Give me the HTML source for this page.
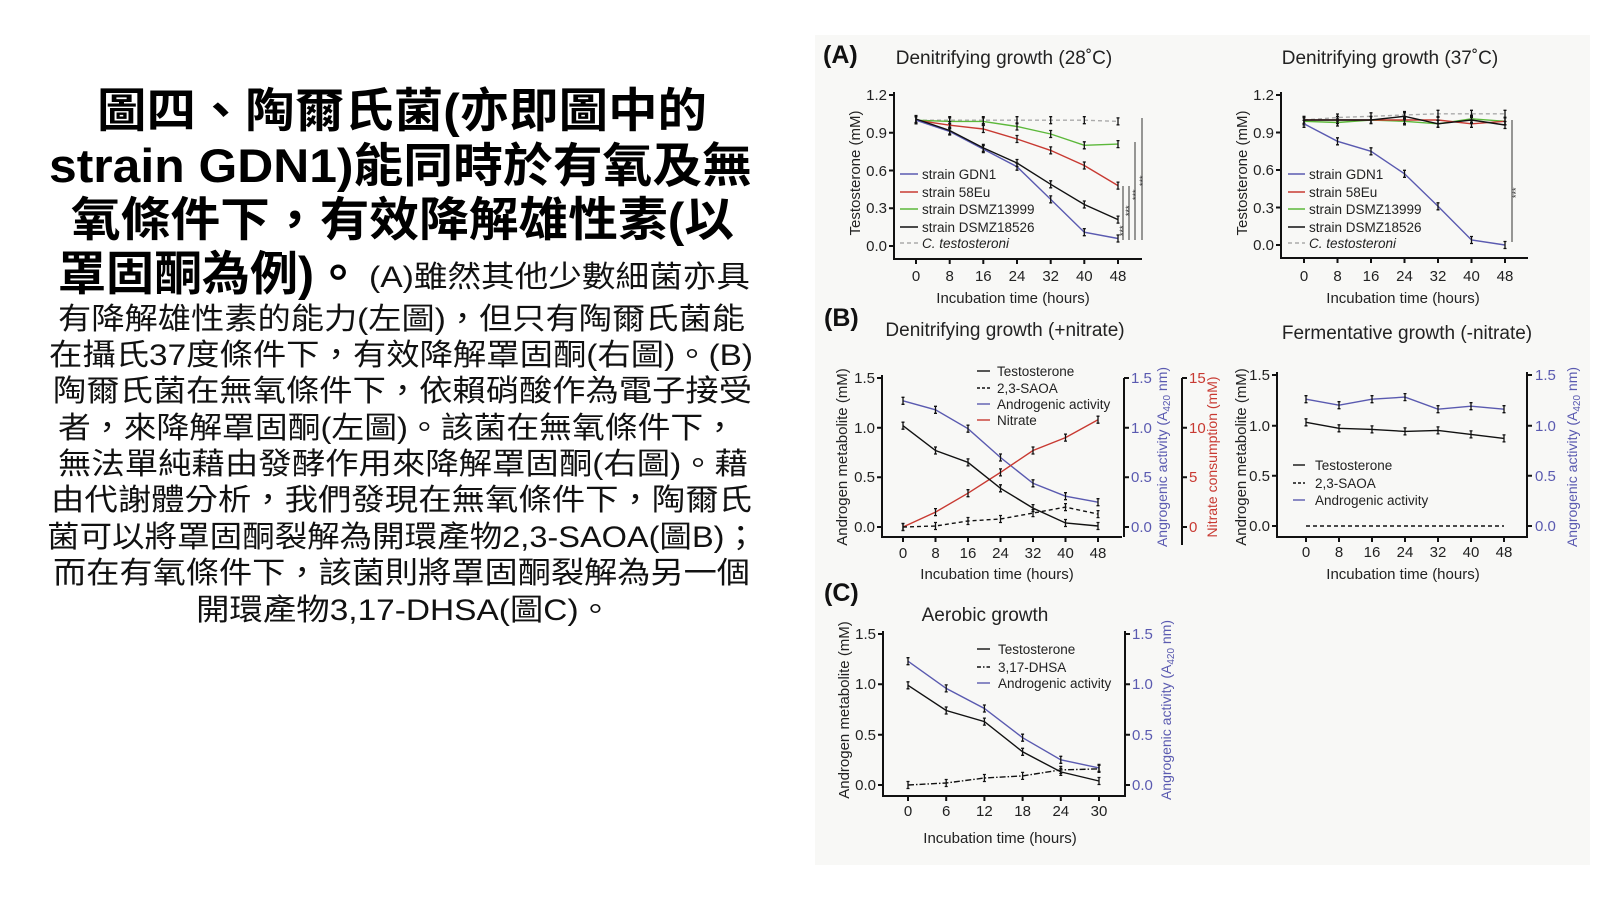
<!DOCTYPE html>
<html><head><meta charset="utf-8">
<style>
html,body{margin:0;padding:0;background:#fff;}
svg{display:block;}
.t{font-family:"Liberation Sans","Noto Sans CJK TC",sans-serif;}
</style></head><body>
<svg width="1600" height="900" viewBox="0 0 1600 900" xmlns="http://www.w3.org/2000/svg" class="t" font-family="Liberation Sans, Noto Sans CJK TC, sans-serif">
<defs>
<marker id="eb" markerUnits="userSpaceOnUse" markerWidth="10" markerHeight="12" refX="5" refY="6" viewBox="0 0 10 12" overflow="visible">
<path d="M5,2.5V9.5M3.5,2.5H6.5M3.5,9.5H6.5" stroke="#111" stroke-width="1.3" fill="none"/>
</marker>
</defs>
<rect x="815" y="35" width="775" height="830" fill="#f8f8f6"/>

<!-- Left text -->
<g font-weight="bold" font-size="47" fill="#000">
<text x="97" y="127" textLength="610" lengthAdjust="spacingAndGlyphs">圖四、陶爾氏菌(亦即圖中的</text>
<text x="49" y="182" textLength="703" lengthAdjust="spacingAndGlyphs">strain GDN1)能同時於有氧及無</text>
<text x="71" y="236" textLength="663" lengthAdjust="spacingAndGlyphs">氧條件下，有效降解雄性素(以</text>
<text x="58" y="290" textLength="304" lengthAdjust="spacingAndGlyphs">罩固酮為例)。</text>
</g>
<g font-size="30" fill="#111">
<text x="369" y="287" textLength="381" lengthAdjust="spacingAndGlyphs">(A)雖然其他少數細菌亦具</text>
<text x="58" y="329" textLength="687" lengthAdjust="spacingAndGlyphs">有降解雄性素的能力(左圖)，但只有陶爾氏菌能</text>
<text x="49" y="365" textLength="704" lengthAdjust="spacingAndGlyphs">在攝氏37度條件下，有效降解罩固酮(右圖)。(B)</text>
<text x="53" y="401" textLength="699" lengthAdjust="spacingAndGlyphs">陶爾氏菌在無氧條件下，依賴硝酸作為電子接受</text>
<text x="58" y="438" textLength="678" lengthAdjust="spacingAndGlyphs">者，來降解罩固酮(左圖)。該菌在無氧條件下，</text>
<text x="58" y="474" textLength="690" lengthAdjust="spacingAndGlyphs">無法單純藉由發酵作用來降解罩固酮(右圖)。藉</text>
<text x="51" y="510" textLength="701" lengthAdjust="spacingAndGlyphs">由代謝體分析，我們發現在無氧條件下，陶爾氏</text>
<text x="47" y="547" textLength="710" lengthAdjust="spacingAndGlyphs">菌可以將罩固酮裂解為開環產物2,3-SAOA(圖B)；</text>
<text x="53" y="583" textLength="697" lengthAdjust="spacingAndGlyphs">而在有氧條件下，該菌則將罩固酮裂解為另一個</text>
<text x="196" y="620" textLength="416" lengthAdjust="spacingAndGlyphs">開環產物3,17-DHSA(圖C)。</text>
</g>

<!-- Panel labels -->
<g font-weight="bold" font-size="25" fill="#111">
<text x="823" y="63">(A)</text>
<text x="824" y="326">(B)</text>
<text x="824" y="601">(C)</text>
</g>

<g font-size="19" fill="#222">
<text x="1004" y="64" text-anchor="middle">Denitrifying growth (28˚C)</text>
<text x="1390" y="64" text-anchor="middle">Denitrifying growth (37˚C)</text>
<text x="1005" y="336" text-anchor="middle">Denitrifying growth (+nitrate)</text>
<text x="1407" y="339" text-anchor="middle">Fermentative growth (-nitrate)</text>
<text x="985" y="621" text-anchor="middle">Aerobic growth</text>
</g>

<!-- ===== Panel A left ===== -->
<g stroke="#111" stroke-width="2" fill="none">
<path d="M894,92V259H1142"/>
<path d="M889,95H894M889,132.8H894M889,170.5H894M889,208.3H894M889,246H894"/>
<path d="M916,259v5M949.7,259v5M983.3,259v5M1017,259v5M1050.7,259v5M1084.3,259v5M1118,259v5"/>
</g>
<g font-size="15" fill="#222" text-anchor="end">
<text x="887" y="100">1.2</text><text x="887" y="138">0.9</text><text x="887" y="176">0.6</text><text x="887" y="213">0.3</text><text x="887" y="251">0.0</text>
</g>
<g font-size="15" fill="#222" text-anchor="middle">
<text x="916" y="281">0</text><text x="949.7" y="281">8</text><text x="983.3" y="281">16</text><text x="1017" y="281">24</text><text x="1050.7" y="281">32</text><text x="1084.3" y="281">40</text><text x="1118" y="281">48</text>
<text x="1013" y="303">Incubation time (hours)</text>
<text transform="translate(860,173) rotate(-90)">Testosterone (mM)</text>
</g>
<g fill="none" stroke-width="1.4" marker-start="url(#eb)" marker-mid="url(#eb)" marker-end="url(#eb)">
<polyline stroke="#aaa" stroke-dasharray="4,3" points="916,120.2 949.7,120.2 983.3,120.2 1017,120.2 1050.7,120.2 1084.3,120.2 1118,121.4"/>
<polyline stroke="#5cb83a" points="916,120.2 949.7,121.4 983.3,121.4 1017,126.5 1050.7,134 1084.3,145.3 1118,144.1"/>
<polyline stroke="#c83a32" points="916,120.2 949.7,125.2 983.3,129 1017,139 1050.7,150.4 1084.3,165.5 1118,185.6"/>
<polyline stroke="#5a5ab0" points="916,120.2 949.7,131.5 983.3,149.1 1017,166.7 1050.7,199.4 1084.3,232.2 1118,238.5"/>
<polyline stroke="#111" points="916,119 949.7,130.5 983.3,147.9 1017,163 1050.7,184.3 1084.3,204.5 1118,219.6"/>
</g>
<g stroke="#333" stroke-width="1">
<path d="M1123,240V186M1129,240V186M1135,240V142M1142,240V118"/>
</g>
<g font-size="9" fill="#333">
<text transform="translate(1126,236) rotate(-90)">***</text>
<text transform="translate(1132,216) rotate(-90)">***</text>
<text transform="translate(1139,200) rotate(-90)">***</text>
<text transform="translate(1146,186) rotate(-90)">***</text>
</g>
<g font-size="13.5" fill="#222">
<path d="M900,174H918" stroke="#5a5ab0" stroke-width="1.4"/><text x="922" y="179">strain GDN1</text>
<path d="M900,192H918" stroke="#c83a32" stroke-width="1.4"/><text x="922" y="197">strain 58Eu</text>
<path d="M900,209H918" stroke="#5cb83a" stroke-width="1.4"/><text x="922" y="214">strain DSMZ13999</text>
<path d="M900,227H918" stroke="#111" stroke-width="1.4"/><text x="922" y="232">strain DSMZ18526</text>
<path d="M900,243H918" stroke="#aaa" stroke-width="1.4" stroke-dasharray="4,3"/><text x="922" y="248" font-style="italic">C. testosteroni</text>
</g>

<!-- ===== Panel A right ===== -->
<g stroke="#111" stroke-width="2" fill="none">
<path d="M1281,92V258H1528"/>
<path d="M1276,95H1281M1276,132.5H1281M1276,170H1281M1276,207.5H1281M1276,245H1281"/>
<path d="M1304,258v5M1337.5,258v5M1371,258v5M1404.5,258v5M1438,258v5M1471.5,258v5M1505,258v5"/>
</g>
<g font-size="15" fill="#222" text-anchor="end">
<text x="1274" y="100">1.2</text><text x="1274" y="138">0.9</text><text x="1274" y="175">0.6</text><text x="1274" y="213">0.3</text><text x="1274" y="250">0.0</text>
</g>
<g font-size="15" fill="#222" text-anchor="middle">
<text x="1304" y="281">0</text><text x="1337.5" y="281">8</text><text x="1371" y="281">16</text><text x="1404.5" y="281">24</text><text x="1438" y="281">32</text><text x="1471.5" y="281">40</text><text x="1505" y="281">48</text>
<text x="1403" y="303">Incubation time (hours)</text>
<text transform="translate(1247,173) rotate(-90)">Testosterone (mM)</text>
</g>
<g fill="none" stroke-width="1.4" marker-start="url(#eb)" marker-mid="url(#eb)" marker-end="url(#eb)">
<polyline stroke="#aaa" stroke-dasharray="4,3" points="1304,120 1337.5,117.5 1371,116.3 1404.5,115 1438,113.8 1471.5,113.8 1505,113.8"/>
<polyline stroke="#5cb83a" points="1304,121.3 1337.5,122.5 1371,120 1404.5,121.3 1438,123.8 1471.5,118.8 1505,121.3"/>
<polyline stroke="#c83a32" points="1304,120 1337.5,120 1371,120 1404.5,120 1438,120 1471.5,123.8 1505,121.3"/>
<polyline stroke="#111" points="1304,120 1337.5,120 1371,120 1404.5,116.3 1438,123.8 1471.5,120 1505,125"/>
<polyline stroke="#5a5ab0" points="1304,123.8 1337.5,141.3 1371,151.3 1404.5,173.8 1438,206.3 1471.5,240 1505,245"/>
</g>
<path d="M1512,120V242" stroke="#333" stroke-width="1"/>
<text transform="translate(1519,198) rotate(-90)" font-size="9" fill="#333">***</text>
<g font-size="13.5" fill="#222">
<path d="M1288,174H1305" stroke="#5a5ab0" stroke-width="1.4"/><text x="1309" y="179">strain GDN1</text>
<path d="M1288,192H1305" stroke="#c83a32" stroke-width="1.4"/><text x="1309" y="197">strain 58Eu</text>
<path d="M1288,209H1305" stroke="#5cb83a" stroke-width="1.4"/><text x="1309" y="214">strain DSMZ13999</text>
<path d="M1288,227H1305" stroke="#111" stroke-width="1.4"/><text x="1309" y="232">strain DSMZ18526</text>
<path d="M1288,243H1305" stroke="#aaa" stroke-width="1.4" stroke-dasharray="4,3"/><text x="1309" y="248" font-style="italic">C. testosteroni</text>
</g>

<!-- ===== Panel B left ===== -->
<g stroke="#111" stroke-width="2" fill="none">
<path d="M882,375V537H1122"/>
<path d="M877,378H882M877,427.7H882M877,477.3H882M877,527H882"/>
<path d="M903,537v5M935.5,537v5M968,537v5M1000.5,537v5M1033,537v5M1065.5,537v5M1098,537v5"/>
<path d="M1124,378V537M1124,378H1129M1124,427.7H1129M1124,477.3H1129M1124,527H1129"/>
<path d="M1182,378V545M1182,378H1187M1182,427.7H1187M1182,477.3H1187M1182,527H1187"/>
</g>
<g font-size="15" fill="#222" text-anchor="end">
<text x="875" y="383">1.5</text><text x="875" y="433">1.0</text><text x="875" y="482">0.5</text><text x="875" y="532">0.0</text>
</g>
<g font-size="15" fill="#5a5ab0">
<text x="1131" y="383">1.5</text><text x="1131" y="433">1.0</text><text x="1131" y="482">0.5</text><text x="1131" y="532">0.0</text>
<text transform="translate(1167,457) rotate(-90)" text-anchor="middle" font-size="14">Angrogenic activity (A<tspan font-size="10" dy="3">420</tspan><tspan dy="-3"> nm)</tspan></text>
</g>
<g font-size="15" fill="#c83a32">
<text x="1189" y="383">15</text><text x="1189" y="433">10</text><text x="1189" y="482">5</text><text x="1189" y="532">0</text>
<text transform="translate(1217,457) rotate(-90)" text-anchor="middle" font-size="14">Nitrate consumption (mM)</text>
</g>
<g font-size="15" fill="#222" text-anchor="middle">
<text x="903" y="558">0</text><text x="935.5" y="558">8</text><text x="968" y="558">16</text><text x="1000.5" y="558">24</text><text x="1033" y="558">32</text><text x="1065.5" y="558">40</text><text x="1098" y="558">48</text>
<text x="997" y="579">Incubation time (hours)</text>
<text transform="translate(847,457) rotate(-90)">Androgen metabolite (mM)</text>
</g>
<g fill="none" stroke-width="1.4" marker-start="url(#eb)" marker-mid="url(#eb)" marker-end="url(#eb)">
<polyline stroke="#5a5ab0" points="903,400.8 935.5,409.8 968,428.7 1000.5,457.5 1033,483.3 1065.5,496.2 1098,502.2"/>
<polyline stroke="#c83a32" points="903,527 935.5,512.1 968,493.2 1000.5,472.4 1033,450.5 1065.5,437.6 1098,419.7"/>
<polyline stroke="#111" points="903,425.7 935.5,450.5 968,462.4 1000.5,488.3 1033,508.1 1065.5,523 1098,526"/>
<polyline stroke="#111" stroke-dasharray="4,3" points="903,527 935.5,526 968,521 1000.5,519 1033,513.1 1065.5,507.1 1098,514.1"/>
</g>
<g font-size="13.5" fill="#222">
<path d="M977,371H990" stroke="#111" stroke-width="1.4"/><text x="997" y="376">Testosterone</text>
<path d="M977,388H990" stroke="#111" stroke-width="1.4" stroke-dasharray="3,2"/><text x="997" y="393">2,3-SAOA</text>
<path d="M977,404H990" stroke="#5a5ab0" stroke-width="1.4"/><text x="997" y="409">Androgenic activity</text>
<path d="M977,420H990" stroke="#c83a32" stroke-width="1.4"/><text x="997" y="425">Nitrate</text>
</g>

<!-- ===== Panel B right ===== -->
<g stroke="#111" stroke-width="2" fill="none">
<path d="M1277,372V537H1527V372"/>
<path d="M1272,375H1277M1272,425.7H1277M1272,475.7H1277M1272,526H1277"/>
<path d="M1527,375H1532M1527,425.7H1532M1527,475.7H1532M1527,526H1532"/>
<path d="M1306,537v5M1339,537v5M1372,537v5M1405,537v5M1438,537v5M1471,537v5M1504,537v5"/>
</g>
<g font-size="15" fill="#222" text-anchor="end">
<text x="1270" y="380">1.5</text><text x="1270" y="431">1.0</text><text x="1270" y="481">0.5</text><text x="1270" y="531">0.0</text>
</g>
<g font-size="15" fill="#5a5ab0">
<text x="1535" y="380">1.5</text><text x="1535" y="431">1.0</text><text x="1535" y="481">0.5</text><text x="1535" y="531">0.0</text>
<text transform="translate(1577,457) rotate(-90)" text-anchor="middle" font-size="14">Angrogenic activity (A<tspan font-size="10" dy="3">420</tspan><tspan dy="-3"> nm)</tspan></text>
</g>
<g font-size="15" fill="#222" text-anchor="middle">
<text x="1306" y="557">0</text><text x="1339" y="557">8</text><text x="1372" y="557">16</text><text x="1405" y="557">24</text><text x="1438" y="557">32</text><text x="1471" y="557">40</text><text x="1504" y="557">48</text>
<text x="1403" y="579">Incubation time (hours)</text>
<text transform="translate(1246,457) rotate(-90)">Androgen metabolite (mM)</text>
</g>
<g fill="none" stroke-width="1.4" marker-start="url(#eb)" marker-mid="url(#eb)" marker-end="url(#eb)">
<polyline stroke="#5a5ab0" points="1306,399.2 1339,405.2 1372,399.2 1405,397.1 1438,409.2 1471,406.2 1504,409.2"/>
<polyline stroke="#111" points="1306,422.3 1339,428.3 1372,429.4 1405,431.4 1438,430.4 1471,434.4 1504,438.4"/>
</g>
<path d="M1306,526H1504" stroke="#111" stroke-width="1.4" stroke-dasharray="4,3"/>
<g font-size="13.5" fill="#222">
<path d="M1293,465H1305" stroke="#111" stroke-width="1.4"/><text x="1315" y="470">Testosterone</text>
<path d="M1293,483H1305" stroke="#111" stroke-width="1.4" stroke-dasharray="3,2"/><text x="1315" y="488">2,3-SAOA</text>
<path d="M1293,500H1305" stroke="#5a5ab0" stroke-width="1.4"/><text x="1315" y="505">Androgenic activity</text>
</g>

<!-- ===== Panel C ===== -->
<g stroke="#111" stroke-width="2" fill="none">
<path d="M883,631V796H1125V631"/>
<path d="M878,634H883M878,684.3H883M878,734.7H883M878,785H883"/>
<path d="M1125,634H1130M1125,684.3H1130M1125,734.7H1130M1125,785H1130"/>
<path d="M908,796v5M946.2,796v5M984.4,796v5M1022.6,796v5M1060.8,796v5M1099,796v5"/>
</g>
<g font-size="15" fill="#222" text-anchor="end">
<text x="876" y="639">1.5</text><text x="876" y="689">1.0</text><text x="876" y="740">0.5</text><text x="876" y="790">0.0</text>
</g>
<g font-size="15" fill="#5a5ab0">
<text x="1132" y="639">1.5</text><text x="1132" y="689">1.0</text><text x="1132" y="740">0.5</text><text x="1132" y="790">0.0</text>
<text transform="translate(1171,710) rotate(-90)" text-anchor="middle" font-size="14">Angrogenic activity (A<tspan font-size="10" dy="3">420</tspan><tspan dy="-3"> nm)</tspan></text>
</g>
<g font-size="15" fill="#222" text-anchor="middle">
<text x="908" y="816">0</text><text x="946.2" y="816">6</text><text x="984.4" y="816">12</text><text x="1022.6" y="816">18</text><text x="1060.8" y="816">24</text><text x="1099" y="816">30</text>
<text x="1000" y="843">Incubation time (hours)</text>
<text transform="translate(849,710) rotate(-90)">Androgen metabolite (mM)</text>
</g>
<g fill="none" stroke-width="1.4" marker-start="url(#eb)" marker-mid="url(#eb)" marker-end="url(#eb)">
<polyline stroke="#5a5ab0" points="908,661.2 946.2,688.4 984.4,708.5 1022.6,737.7 1060.8,759.8 1099,767.9"/>
<polyline stroke="#111" points="908,685.3 946.2,710.5 984.4,721.6 1022.6,751.8 1060.8,771.9 1099,781"/>
<polyline stroke="#111" stroke-dasharray="6,2,1.5,2" points="908,785 946.2,783 984.4,778 1022.6,775.9 1060.8,769.9 1099,768.9"/>
</g>
<g font-size="13.5" fill="#222">
<path d="M977,649H990" stroke="#111" stroke-width="1.4"/><text x="998" y="654">Testosterone</text>
<path d="M977,667H990" stroke="#111" stroke-width="1.4" stroke-dasharray="4,2,1.5,2"/><text x="998" y="672">3,17-DHSA</text>
<path d="M977,683H990" stroke="#5a5ab0" stroke-width="1.4"/><text x="998" y="688">Androgenic activity</text>
</g>
</svg>
</body></html>
